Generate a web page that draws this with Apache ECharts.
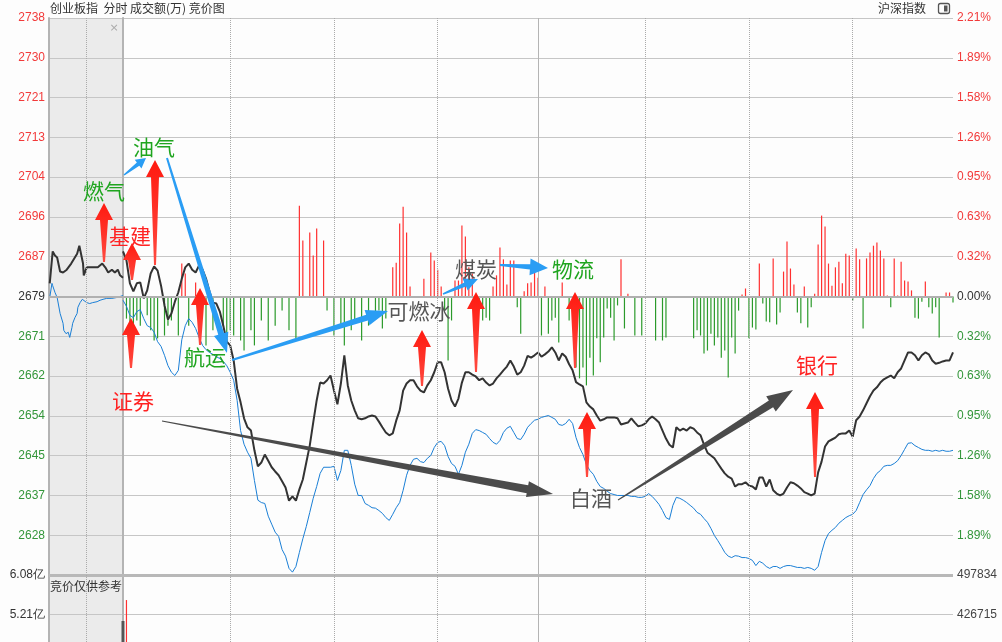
<!DOCTYPE html>
<html><head><meta charset="utf-8">
<script src="https://cdn.jsdelivr.net/npm/echarts@6/dist/echarts.min.js"></script>
<style>html,body{margin:0;padding:0;background:#fdfdfd}#c{width:1002px;height:642px}</style>
</head><body><div id="c"></div>
<script>
// ---------- data ----------
const prevClose = 2679;
const maxPct = 2.21;
const priceLabels = ['', '2628','2637','2645','2654','2662','2671','2679','2687','2696','2704','2713','2721','2730','2738'];
const pctLabels = ['', '1.89%','1.58%','1.26%','0.95%','0.63%','0.32%','0.00%','0.32%','0.63%','0.95%','1.26%','1.58%','1.89%','2.21%'];
const volMax = 6.08;                 // 亿
const volLeftLabels = ['6.08亿','5.21亿'];
const volRightLabels = ['497834','426715'];

// call auction 9:15-9:25 (minutes after 9:15, price)
const auctionIndex = [[0.1,2681.8],[0.5,2688.6],[0.8,2687.7],[1.1,2687.3],[1.5,2684.3],[1.9,2684.1],[2.4,2684.7],[3.0,2686.0],[3.2,2686.2],[3.8,2688.1],[4.1,2689.8],[4.3,2689.4],[4.6,2686.0],[4.7,2683.5],[5.1,2685.2],[5.5,2685.2],[5.9,2685.2],[6.6,2685.2],[7.2,2686.0],[7.6,2685.2],[8.0,2684.1],[8.5,2684.7],[8.9,2684.1],[9.3,2684.7],[9.6,2683.5],[10,2683.0]];
const auctionRef = [[0.1,2678.8],[0.4,2681.8],[0.5,2681.3],[0.8,2679.9],[1.1,2678.8],[1.5,2675.4],[1.9,2673.3],[2.0,2671.8],[2.3,2671.1],[2.6,2671.4],[2.8,2670.3],[3.1,2672.4],[3.2,2673.3],[3.5,2674.5],[3.8,2675.4],[3.9,2676.7],[4.2,2677.7],[4.5,2678.4],[4.7,2678.2],[5.1,2677.7],[5.5,2677.5],[5.9,2677.7],[6.5,2677.9],[6.9,2678.2],[7.3,2678.4],[7.8,2678.6],[8.5,2678.6],[9.2,2678.8],[10,2679.2]];

// 创业板指 per minute (9:30 .. 15:00, 241 points)
const indexPrices = [2688.6,2686.7,2681.8,2680.1,2681.8,2682.0,2678.6,2680.3,2683.9,2685.4,2684.5,2681.3,2677.1,2674.1,2675.4,2677.9,2679.9,2682.8,2685.2,2686.0,
2684.7,2684.1,2685.6,2684.7,2682.8,2680.1,2677.7,2677.5,2675.8,2672.8,2669.4,2668.6,2665.4,2659.4,2656.5,2653.1,2651.2,2650.5,2646.3,2642.9,
2643.7,2645.4,2644.1,2642.7,2641.8,2641.0,2639.7,2638.4,2635.6,2636.5,2635.6,2638.0,2640.1,2643.7,2647.3,2652.2,2656.9,2660.7,2660.5,2661.2,
2662.2,2659.0,2656.1,2660.5,2666.5,2660.1,2656.9,2654.8,2653.1,2652.9,2653.1,2653.5,2653.7,2653.5,2652.4,2651.2,2650.1,2649.5,2649.9,2652.6,
2654.8,2659.0,2660.5,2661.2,2661.2,2659.9,2659.0,2658.6,2660.1,2661.2,2662.9,2665.0,2665.0,2662.9,2659.4,2656.9,2655.6,2657.3,2660.7,2662.9,
2662.9,2662.4,2662.0,2661.2,2661.6,2660.7,2660.1,2660.5,2661.6,2662.4,2663.3,2664.1,2665.4,2664.1,2662.4,2662.9,2664.3,2666.4,2666.0,2666.5,
2667.1,2666.2,2666.7,2667.3,2668.2,2667.1,2665.4,2666.9,2666.2,2664.6,2663.3,2660.8,2660.3,2659.9,2656.5,2655.6,2655.0,2653.7,2652.6,2652.9,
2653.3,2653.3,2653.3,2653.1,2651.8,2652.0,2652.2,2653.1,2652.2,2651.4,2651.6,2652.0,2652.9,2653.5,2652.9,2652.2,2650.5,2648.8,2647.5,2646.9,
2651.2,2650.5,2650.9,2650.5,2651.2,2650.9,2650.1,2649.5,2647.5,2645.8,2645.2,2644.6,2643.5,2642.4,2641.4,2640.7,2640.3,2638.6,2639.1,2639.1,
2639.5,2638.8,2638.6,2638.0,2640.5,2640.5,2638.6,2640.1,2637.8,2637.1,2636.7,2637.1,2638.4,2639.5,2639.3,2638.8,2638.2,2637.4,2637.1,2636.7,
2637.1,2641.6,2643.9,2647.1,2648.2,2648.6,2649.0,2649.7,2649.9,2649.9,2650.5,2649.2,2652.7,2653.5,2654.8,2656.3,2657.8,2659.0,2659.7,2660.7,
2661.4,2661.8,2662.2,2661.6,2662.9,2663.7,2665.4,2667.1,2667.1,2666.5,2665.4,2666.5,2667.1,2666.7,2665.4,2664.7,2664.9,2665.2,2665.4,2665.4,
2667.1];

// 沪深指数 overlay, per minute, on the same percentage scale
const refPrices = [2678.2,2676.9,2675.0,2674.5,2675.8,2676.2,2674.3,2672.8,2672.4,2671.4,2669.4,2668.4,2666.5,2664.3,2662.9,2662.2,2663.3,2669.8,2672.8,2674.3,
2673.5,2672.2,2670.3,2668.6,2667.7,2667.1,2666.7,2666.2,2665.8,2665.2,2664.3,2662.9,2661.2,2656.9,2650.5,2647.6,2645.9,2644.6,2639.9,2635.7,
2635.2,2635.0,2632.3,2630.6,2628.9,2628.0,2625.2,2623.8,2621.2,2620.4,2621.6,2624.6,2627.5,2630.1,2633.1,2636.1,2638.6,2641.4,2642.7,2642.7,
2642.7,2642.9,2639.9,2642.0,2646.3,2646.3,2643.1,2639.1,2636.7,2636.7,2635.0,2634.6,2634.1,2634.0,2633.5,2632.9,2632.0,2631.4,2632.7,2634.1,
2635.2,2637.8,2641.0,2643.1,2644.4,2644.6,2643.9,2643.7,2644.6,2645.2,2646.9,2648.0,2648.2,2647.3,2645.0,2643.5,2642.9,2641.2,2643.1,2645.9,
2647.6,2649.9,2650.7,2650.5,2650.1,2649.7,2648.8,2648.0,2647.6,2648.4,2650.1,2651.0,2651.4,2650.1,2648.8,2648.6,2649.7,2651.2,2652.0,2652.7,
2652.9,2653.3,2653.5,2653.7,2653.3,2652.9,2651.8,2651.6,2652.0,2652.9,2652.0,2649.0,2646.9,2645.4,2643.3,2642.0,2641.2,2639.7,2638.6,2638.2,
2637.6,2637.1,2636.9,2636.7,2636.7,2636.7,2636.7,2636.5,2636.5,2636.3,2636.3,2636.5,2637.1,2636.5,2635.7,2634.8,2633.5,2632.0,2631.6,2634.6,
2636.3,2636.1,2635.7,2635.2,2634.6,2634.0,2633.1,2632.7,2631.8,2631.0,2629.7,2628.2,2627.1,2625.9,2624.6,2623.8,2623.5,2623.9,2623.8,2623.5,
2623.5,2623.3,2622.9,2621.8,2622.7,2622.3,2621.6,2621.2,2621.6,2621.6,2621.2,2621.6,2621.8,2621.8,2621.6,2621.4,2621.4,2621.2,2621.4,2621.2,
2620.8,2621.6,2624.6,2627.1,2628.6,2629.3,2629.9,2630.8,2631.4,2632.0,2632.4,2632.7,2633.5,2635.2,2636.9,2637.9,2638.8,2640.3,2641.4,2642.0,
2642.9,2643.1,2643.1,2643.5,2644.1,2645.2,2646.5,2647.8,2647.9,2647.3,2646.9,2646.5,2646.3,2646.3,2646.1,2646.3,2646.1,2646.3,2646.1,2646.1,
2646.3];

// red/green strength bars [minute, index points]
const strengthBars = [[1,-4.7],[2,-7.2],[3,-9.35],[4,-5.1],[5,-6.2],[7,-4.0],[8,-7.2],[9,-9.35],[10,-8.9],[12,-8.3],[13,-6.2],[14,-5.1],[16,-8.3],[17,7.0],[18,4.9],[19,-6.2],[21,3.0],[22,-8.3],[24,-10.4],[26,-7.2],[29,-6.2],[30,-9.35],[31,-7.2],[32,-8.3],[34,-9.35],[35,-11.5],[37,-7.2],[38,-10.4],[40,-5.1],[42,-9.35],[44,-6.2],[46,-3.0],[48,-7.2],[50,-9.35],
[51,19.3],[52,11.9],[54,13.6],[55,8.7],[56,14.45],[58,11.9],[59,-3.0],[61,-8.3],[63,-6.2],[64,-10.4],[66,-7.2],[67,-5.1],[69,-9.35],[71,-6.2],[73,-4.0],[74,-3.0],[75,-6.8],[76,-4.7],[78,6.2],[79,7.2],[80,15.5],[81,19.1],[82,13.6],[83,2.1],[87,3.8],[89,9.35],[90,7.65],[91,5.7],[92,2.1],[93,-3.0],[94,-13.6],[95,-5.1],[96,3.4],[97,3.4],[98,15.1],[99,12.75],[100,6.2],
[101,4.9],[103,-2.3],[104,-5.1],[105,-4.5],[106,-5.1],[107,2.1],[108,4.5],[109,10.4],[110,7.9],[111,2.55],[112,7.65],[113,7.65],[114,-2.3],[115,-7.9],[116,1.1],[117,2.8],[118,3.0],[119,5.5],[120,4.0],[121,-8.3],[122,2.1],[123,-7.9],[124,-5.1],[125,-4.5],[126,-9.8],[127,3.0],[129,-5.1],[131,-15.1],[132,-17.4],[133,-15.1],[134,-18.9],[135,-13.0],[136,-16.8],[137,-8.9],[138,-14.0],[139,-8.7],[140,-2.55],[141,-4.5],[142,-9.35],[143,-1.9],[144,7.9],[145,-6.8],[146,0.6],[148,-8.3],[150,-8.3],
[154,-9.35],[156,-9.35],[157,-8.7],[165,-8.9],[166,-7.2],[167,-8.3],[168,-12.1],[169,-11.5],[170,-7.9],[171,-10.4],[172,-8.7],[173,-13.0],[174,-11.5],[175,-17.2],[176,-8.7],[177,-12.1],[178,-3.0],[179,0.4],[180,1.7],[181,-8.9],[182,-6.6],[183,-7.0],[184,7.0],[185,-1.5],[186,-5.3],[187,-5.5],[188,8.1],[189,-5.95],[190,-3.4],[191,5.3],[192,11.7],[193,5.95],[194,2.55],[195,-3.4],[196,-5.7],[197,2.1],[198,-6.6],[199,-2.3],[200,0.6],
[201,11.05],[202,17.2],[203,14.9],[204,7.0],[205,2.3],[206,6.2],[207,7.4],[208,2.8],[209,9.1],[210,8.7],[211,-0.85],[212,10.2],[213,7.9],[214,-6.8],[215,8.1],[216,9.35],[217,10.8],[218,11.5],[219,9.8],[220,8.1],[221,0.2],[222,-2.3],[223,8.1],[224,0.2],[225,7.4],[226,3.4],[227,3.2],[228,1.3],[229,-4.5],[230,-4.7],[231,-1.1],[232,3.2],[233,-2.3],[234,-3.6],[235,-2.3],[236,-8.7],[238,0.85],[239,0.85],[240,-1.3]];

// turnover (亿)
const auctionVolume = [[10, 5.07]];
const minuteVolume = [[1, 5.53]];

// ---------- layout / styles ----------
const RED = '#f23a3a', GREEN = '#33963a', DARK = '#333333';
const GRID_C = '#c6c6c6', BORDER_C = '#b4b4b4';
const step = prevClose * maxPct / 100 / 7;
const toStep = p => (p - prevClose) / step;
const volStep = volMax / 7;
const lblColor = v => { const i = Math.round(v); return i > 0 ? RED : (i < 0 ? GREEN : DARK); };
const dotted = { type: 'dotted', color: '#aaaaaa', width: 1 };
const vLines = [31, 61, 91, 151, 181, 211];
const numFont = 'Liberation Sans';

function vMarks(list) {
  return list.map(m => ({ xAxis: m, lineStyle: dotted })).concat([{ xAxis: 120, lineStyle: { type: 'solid', color: BORDER_C, width: 1 } }]);
}
const baseMarkLine = extra => ({
  silent: true, symbol: ['none', 'none'], label: { show: false }, animation: false,
  emphasis: { disabled: true }, data: extra
});

const chart = echarts.init(document.getElementById('c'), null, { renderer: 'canvas' });

const priceAxisCommon = {
  type: 'value', min: -7, max: 7, interval: 1,
  axisTick: { show: false },
  splitLine: { show: true, lineStyle: { color: GRID_C, width: 1 }, showMinLine: false }
};

// ---------- annotation graphics ----------
function arrowPoly(x1, y1, x2, y2, w1, w2, hl, hw) {
  const dx = x2 - x1, dy = y2 - y1, L = Math.hypot(dx, dy);
  const ux = dx / L, uy = dy / L, nx = -uy, ny = ux;
  const bx = x2 - ux * hl, by = y2 - uy * hl;
  return [
    [x1 + nx * w1 / 2, y1 + ny * w1 / 2],
    [bx + nx * w2 / 2, by + ny * w2 / 2],
    [bx + nx * hw / 2, by + ny * hw / 2],
    [x2, y2],
    [bx - nx * hw / 2, by - ny * hw / 2],
    [bx - nx * w2 / 2, by - ny * w2 / 2],
    [x1 - nx * w1 / 2, y1 - ny * w1 / 2]
  ];
}
const redArrows = [[104,203,262],[132,243,280],[155,160,265],[131,318,368],[200,288,345],[422,330,386],[476,292,372],[575,292,368],[587,412,477],[815,392,477]];
const blueArrows = [[124,175,146,158,1.5,4,10,11],[167,158,227,353,2,6,20,15],[232,360,388,311,2,6,22,16],[443,294,478,279,1.5,4.5,14,13],[500,265,548,268,2,5.5,18,17]];
const grayArrows = [[162,421,553,494,1,8,26,16],[618,500,793,390,1,8,26,18]];
const labels = [
  ['燃气',104,191,'#1fa51f'],['油气',154,147,'#1fa51f'],['基建',130,236,'#ff2222'],['证券',133,401,'#ff2222'],
  ['航运',205,357,'#1fa51f'],['可燃冰',419,311,'#555555'],['煤炭',476,269,'#555555'],['物流',573,269,'#1fa51f'],
  ['白酒',591,498,'#555555'],['银行',817,365,'#ff2222']
];
const graphics = [];
redArrows.forEach(([x, t, b]) => graphics.push({ type: 'polygon', z: 100, silent: true,
  shape: { points: arrowPoly(x, b, x, t, 2, 8, 17, 18) },
  style: { fill: new echarts.graphic.LinearGradient(0, 0, 0, 1, [{ offset: 0, color: '#ff1a10' }, { offset: 1, color: '#ff4a40' }]) } }));
blueArrows.forEach(a => graphics.push({ type: 'polygon', z: 100, silent: true, shape: { points: arrowPoly(...a) }, style: { fill: '#2a9df4' } }));
grayArrows.forEach(a => graphics.push({ type: 'polygon', z: 100, silent: true, shape: { points: arrowPoly(...a) }, style: { fill: '#4b4b4b' } }));
labels.forEach(([t, x, y, c]) => graphics.push({ type: 'text', z: 101, silent: true,
  style: { text: t, x, y, fill: c, font: '21px "Noto Sans CJK SC"', align: 'center', verticalAlign: 'middle' } }));
// header texts
graphics.push({ type: 'text', silent: true, style: { text: '创业板指  分时 成交额(万) 竞价图', x: 50, y: 8, fill: DARK, font: '12px "Noto Sans CJK SC"', verticalAlign: 'middle' } });
graphics.push({ type: 'text', silent: true, style: { text: '沪深指数', x: 926, y: 8, fill: DARK, font: '12px "Noto Sans CJK SC"', align: 'right', verticalAlign: 'middle' } });
graphics.push({ type: 'rect', silent: true, shape: { x: 938.5, y: 3.5, width: 11, height: 10, r: 2 }, style: { fill: 'none', stroke: '#555', lineWidth: 1.3 } });
graphics.push({ type: 'rect', silent: true, shape: { x: 944, y: 5.5, width: 3.5, height: 6 }, style: { fill: '#555' } });
graphics.push({ type: 'text', silent: true, style: { text: '×', x: 114, y: 28, fill: '#aaaaaa', font: '11px "DejaVu Sans"', align: 'center', verticalAlign: 'middle' } });
graphics.push({ type: 'text', silent: true, z: 50, style: { text: '竞价仅供参考', x: 50, y: 586, fill: DARK, font: '12px "Noto Sans CJK SC"', verticalAlign: 'middle' } });

const gridBase = { outerBoundsMode: 'none', containLabel: false };
const option = {
  animation: false,
  backgroundColor: '#fdfdfd',
  grid: [
    Object.assign({ left: 49, top: 18, width: 74, height: 557, show: true, backgroundColor: '#ebebeb', borderWidth: 0 }, gridBase),
    Object.assign({ left: 123, top: 18, width: 830, height: 557, show: false }, gridBase),
    Object.assign({ left: 49, top: 575, width: 74, height: 277, show: true, backgroundColor: '#ebebeb', borderWidth: 0 }, gridBase),
    Object.assign({ left: 123, top: 575, width: 830, height: 277, show: false }, gridBase)
  ],
  xAxis: [
    { gridIndex: 0, type: 'value', min: 0, max: 10, show: false },
    { gridIndex: 1, type: 'value', min: 0, max: 240, show: false },
    { gridIndex: 2, type: 'value', min: 0, max: 10, show: false },
    { gridIndex: 3, type: 'value', min: 0, max: 240, show: false }
  ],
  yAxis: [
    Object.assign({}, priceAxisCommon, { gridIndex: 0, position: 'left',
      axisLine: { show: true, lineStyle: { color: BORDER_C, width: 2 } },
      axisLabel: { margin: 4, fontSize: 12, fontFamily: numFont, color: lblColor,
        formatter: v => priceLabels[Math.round(v) + 7] || '' } }),
    Object.assign({}, priceAxisCommon, { gridIndex: 1, position: 'right',
      axisLine: { show: true, lineStyle: { color: BORDER_C, width: 2 } },
      axisLabel: { margin: 4, fontSize: 12, fontFamily: numFont, color: lblColor,
        formatter: v => pctLabels[Math.round(v) + 7] || '' } }),
    { gridIndex: 1, type: 'value', min: -7, max: 7, position: 'left', axisLine: { show: true, lineStyle: { color: BORDER_C, width: 1 } },
      axisTick: { show: false }, axisLabel: { show: false }, splitLine: { show: false } },
    { gridIndex: 2, type: 'value', min: 0, max: volMax, interval: volStep, position: 'left',
      axisLine: { show: true, lineStyle: { color: BORDER_C, width: 2 } }, axisTick: { show: false },
      axisLabel: { margin: 4, fontSize: 12, fontFamily: numFont, color: DARK,
        formatter: v => volLeftLabels[Math.round((volMax - v) / volStep)] || '' },
      splitLine: { show: true, lineStyle: { color: GRID_C }, showMaxLine: false } },
    { gridIndex: 3, type: 'value', min: 0, max: volMax, interval: volStep, position: 'right',
      axisLine: { show: true, lineStyle: { color: BORDER_C, width: 2 } }, axisTick: { show: false },
      axisLabel: { margin: 4, fontSize: 12, fontFamily: numFont, color: '#444',
        formatter: v => volRightLabels[Math.round((volMax - v) / volStep)] || '' },
      splitLine: { show: true, lineStyle: { color: GRID_C }, showMaxLine: false } },
    { gridIndex: 3, type: 'value', min: 0, max: volMax, position: 'left', axisLine: { show: true, lineStyle: { color: BORDER_C, width: 1 } },
      axisTick: { show: false }, axisLabel: { show: false }, splitLine: { show: false } }
  ],
  series: [
    { type: 'line', name: 'auctionRef', xAxisIndex: 0, yAxisIndex: 0, z: 3, symbol: 'none', silent: true,
      lineStyle: { color: '#1a7fd6', width: 1 }, data: auctionRef.map(([t, p]) => [t, toStep(p)]),
      markLine: baseMarkLine([{ xAxis: 5, lineStyle: dotted }, { yAxis: 0, lineStyle: { type: 'solid', color: '#b0b0b0', width: 2 } },
        { yAxis: -7, lineStyle: { type: 'solid', color: '#b8b8b8', width: 3 } }]) },
    { type: 'line', name: 'auctionIndex', xAxisIndex: 0, yAxisIndex: 0, z: 4, symbol: 'none', silent: true,
      lineStyle: { color: '#333', width: 2 }, data: auctionIndex.map(([t, p]) => [t, toStep(p)]) },
    { type: 'bar', name: 'strength', xAxisIndex: 1, yAxisIndex: 1, z: 2, barWidth: 1.2, silent: true,
      itemStyle: { color: p => p.value[1] >= 0 ? '#ff3030' : '#2b9a2b' },
      data: strengthBars.map(([m, v]) => [m, v / step]),
      markLine: baseMarkLine(vMarks(vLines).concat([{ yAxis: 0, lineStyle: { type: 'solid', color: '#b0b0b0', width: 2 } },
        { yAxis: -7, lineStyle: { type: 'solid', color: '#b8b8b8', width: 3 } }])) },
    { type: 'line', name: '沪深指数', xAxisIndex: 1, yAxisIndex: 1, z: 3, symbol: 'none', silent: true,
      lineStyle: { color: '#1a7fd6', width: 1 }, data: refPrices.map((p, i) => [i, toStep(p)]) },
    { type: 'line', name: '创业板指', xAxisIndex: 1, yAxisIndex: 1, z: 4, symbol: 'none', silent: true,
      lineStyle: { color: '#333', width: 2 }, data: indexPrices.map((p, i) => [i, toStep(p)]) },
    { type: 'bar', name: 'auctionVol', xAxisIndex: 2, yAxisIndex: 3, barWidth: 3, silent: true, clip: false,
      itemStyle: { color: '#555' }, data: auctionVolume,
      markLine: baseMarkLine([{ xAxis: 5, lineStyle: dotted }]) },
    { type: 'bar', name: 'minuteVol', xAxisIndex: 3, yAxisIndex: 4, barWidth: 1.2, silent: true,
      itemStyle: { color: '#ff3030' }, data: minuteVolume,
      markLine: baseMarkLine(vMarks(vLines)) }
  ],
  graphic: graphics
};
chart.setOption(option);
</script></body></html>
